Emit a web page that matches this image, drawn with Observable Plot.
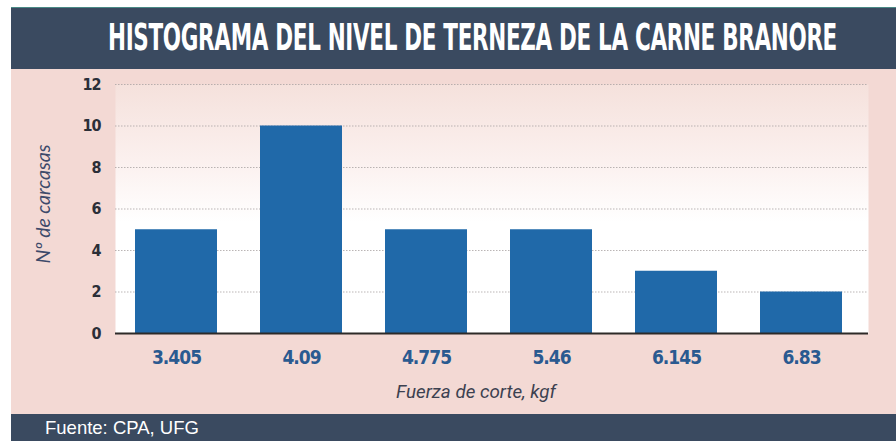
<!DOCTYPE html>
<html>
<head>
<meta charset="utf-8">
<script src="https://cdn.jsdelivr.net/npm/d3@7"></script>
<script src="https://cdn.jsdelivr.net/npm/@observablehq/plot@0.6"></script>
<style>
  html, body { margin: 0; padding: 0; background: #ffffff; }
  #wrap { position: relative; width: 896px; height: 441px; overflow: hidden; background: #ffffff; }
  #panel { position: absolute; left: 11px; top: 7px; width: 885px; height: 434px; background: #f3d9d4; }
  #titlebar { position: absolute; left: 11px; top: 7px; width: 885px; height: 62px; background: #3a4a60; border-top: 1px solid #4a8a86; box-sizing: border-box; }
  #title { position: absolute; left: 0; top: 0; white-space: nowrap; color: #ffffff; font-family: "Liberation Sans Narrow", "DejaVu Sans Condensed", "Liberation Sans", sans-serif; font-weight: bold; font-size: 37px; line-height: 1; transform-origin: 0 0; letter-spacing: -0.5px; }
  #footer { position: absolute; left: 11px; top: 414px; width: 885px; height: 27px; background: #3a4a60; }
  #source { position: absolute; left: 45px; top: 417px; color: #ffffff; font-family: "Liberation Sans", Arial, sans-serif; font-size: 18.5px; line-height: 21px; white-space: nowrap; }
  #chart { position: absolute; left: 0; top: 0; }
  #xlabel { position: absolute; top: 381px; left: 0; width: 952px; text-align: center; color: #3c4150; font-family: "Liberation Sans Narrow", "Roboto", sans-serif; font-style: italic; font-size: 18.8px; line-height: 22px; white-space: nowrap; }
  #ylabel { position: absolute; left: 42px; top: 204px; transform: translate(-50%, -50%) rotate(-90deg); color: #3d4a6a; font-family: "Lato", "Open Sans", sans-serif; font-style: italic; font-size: 19.5px; white-space: nowrap; }
</style>
</head>
<body>
<div id="wrap">
  <div id="panel"></div>
  <div id="titlebar"></div>
  <div id="footer"></div>
  <div id="chart"></div>
  <div id="title">HISTOGRAMA DEL NIVEL DE TERNEZA DE LA CARNE BRANORE</div>
  <div id="xlabel">Fuerza de corte, kgf</div>
  <div id="ylabel">Nº de carcasas</div>
  <div id="source">Fuente: CPA, UFG</div>
</div>
<script>
const categories = ["3.405", "4.09", "4.775", "5.46", "6.145", "6.83"];
const counts = [5, 10, 5, 5, 3, 2];
const yTicks = [0, 2, 4, 6, 8, 10, 12];

const data = categories.map((c, i) => ({bin: c, count: counts[i]}));

const chart = Plot.plot({
  width: 896,
  height: 441,
  marginLeft: 115,
  marginRight: 28,
  marginTop: 84,
  marginBottom: 108,
  style: {background: "transparent", fontFamily: "'Liberation Sans Narrow', 'DejaVu Sans Condensed', sans-serif", overflow: "visible"},
  x: {domain: categories, paddingInner: 0.344, paddingOuter: 0.184, align: 0.435, label: null},
  y: {domain: [0, 12], label: null},
  marks: [
    Plot.frame({fill: "url(#plotbg)", stroke: null}),
    Plot.gridY(yTicks.filter(d => d > 0), {stroke: "#a9a3a3", strokeOpacity: 0.8, strokeDasharray: "1.5,1.5", strokeWidth: 1.2}),
    Plot.barY(data, {x: "bin", y: "count", fill: "#2069a9"}),
    Plot.ruleY([0], {stroke: "#2d2a28", strokeWidth: 2}),
    Plot.axisY(yTicks, {tickSize: 0, tickPadding: 15, fontSize: 16, fontWeight: "bold", color: "#2b2f38", label: null}),
    Plot.axisX({tickSize: 0, tickPadding: 17, fontSize: 19, fontWeight: "bold", color: "#2a5a90", label: null})
  ]
});

const svg = d3.select(chart);
const defs = svg.insert("defs", ":first-child");
const grad = defs.append("linearGradient").attr("id", "plotbg").attr("x1", 0).attr("y1", 0).attr("x2", 0).attr("y2", 1);
grad.append("stop").attr("offset", "0%").attr("stop-color", "#f5e1dc");
grad.append("stop").attr("offset", "30%").attr("stop-color", "#fbf0ee");
grad.append("stop").attr("offset", "55%").attr("stop-color", "#ffffff");
grad.append("stop").attr("offset", "100%").attr("stop-color", "#ffffff");
svg.selectAll("text").style("letter-spacing", "-1px");

document.getElementById("chart").appendChild(chart);

// Fit title to the reference width (x 108..837), centered vertically in the bar
const title = document.getElementById("title");
const w = title.getBoundingClientRect().width;
const h = title.getBoundingClientRect().height;
const targetW = 729;
const sx = targetW / w;
title.style.left = "108px";
title.style.top = (37 - h / 2) + "px";
title.style.transform = `scaleX(${sx})`;
</script>
</body>
</html>
